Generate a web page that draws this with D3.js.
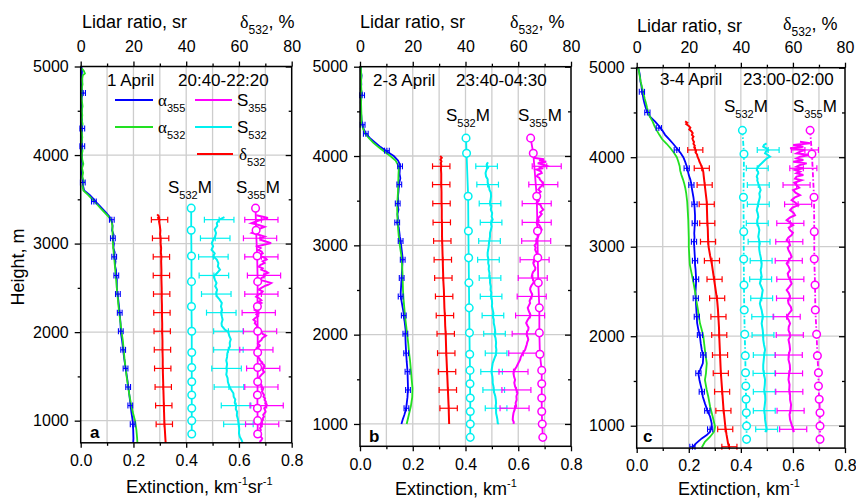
<!DOCTYPE html>
<html><head><meta charset="utf-8">
<script src="https://cdn.jsdelivr.net/npm/d3@7"></script>
<style>body{margin:0;background:#fff}svg{font-family:"Liberation Sans",Arial,sans-serif}</style>
</head><body><svg id="chart" width="856" height="501"></svg>
<script>
// ---------- DATA (height m, value) ----------
const extTicks = [0,0.2,0.4,0.6,0.8];
const extMinor = [0.1,0.3,0.5,0.7];
const lrTicks = [0,20,40,60,80];
const lrMinor = [10,30,50,70];
const hTicks = [1000,2000,3000,4000,5000];
const hMinor = [1500,2500,3500,4500];
const hGrid = [1000,2000,3000,4000];
const extGrid = [0.1,0.2,0.3,0.4,0.5,0.6,0.7];

// Panel a: 1 April 20:40-22:20
const alpha355_a = [[5000,0.003],[4950,0.005],[4900,0.004],[4850,0.006],[4800,0.005],[4750,0.004],[4700,0.009],[4650,0.004],[4600,0.003],[4550,0.005],[4500,0.004],[4450,0.003],[4400,0.005],[4350,0.004],[4300,0.006],[4250,0.004],[4200,0.005],[4150,0.004],[4100,0.006],[4050,0.004],[4000,0.005],[3950,0.004],[3900,0.006],[3850,0.005],[3800,0.004],[3750,0.006],[3700,0.008],[3650,0.009],[3600,0.013],[3550,0.034],[3500,0.05],[3450,0.064],[3400,0.08],[3350,0.096],[3300,0.11],[3250,0.118],[3200,0.121],[3150,0.119],[3100,0.125],[3050,0.122],[3000,0.126],[2950,0.124],[2900,0.129],[2850,0.127],[2800,0.132],[2750,0.13],[2700,0.134],[2650,0.135],[2600,0.137],[2500,0.137],[2400,0.141],[2300,0.145],[2200,0.148],[2100,0.151],[2000,0.152],[1900,0.157],[1800,0.161],[1700,0.165],[1600,0.17],[1500,0.175],[1400,0.18],[1300,0.184],[1200,0.188],[1100,0.192],[1000,0.197],[900,0.199],[800,0.2],[750,0.199]];
const alpha532_a = [[4980,0.004],[4950,0.012],[4920,0.016],[4900,0.008],[4850,0.005],[4800,0.007],[4750,0.004],[4700,0.006],[4650,0.003],[4600,0.005],[4550,0.007],[4500,0.004],[4450,0.006],[4400,0.004],[4350,0.007],[4300,0.005],[4250,0.004],[4200,0.006],[4150,0.004],[4100,0.005],[4050,0.007],[4000,0.004],[3950,0.006],[3900,0.01],[3850,0.005],[3800,0.009],[3750,0.006],[3700,0.012],[3650,0.007],[3600,0.01],[3550,0.028],[3500,0.044],[3450,0.06],[3400,0.075],[3350,0.091],[3300,0.107],[3250,0.117],[3200,0.12],[3100,0.121],[3000,0.122],[2900,0.125],[2800,0.128],[2700,0.131],[2600,0.134],[2500,0.137],[2400,0.14],[2300,0.143],[2200,0.147],[2100,0.151],[2000,0.155],[1900,0.16],[1800,0.163],[1700,0.166],[1600,0.17],[1500,0.174],[1400,0.179],[1300,0.184],[1200,0.19],[1100,0.197],[1000,0.206],[900,0.211],[800,0.214],[750,0.215]];
const delta532_a = [[3330,29.0],[3310,29.6],[3290,29.3],[3270,29.9],[3250,29.7],[3200,30.0],[3150,30.2],[3100,30.1],[3050,30.3],[3000,30.3],[2950,30.5],[2900,30.4],[2850,30.6],[2800,30.5],[2700,30.6],[2600,30.6],[2500,30.7],[2400,30.7],[2300,30.8],[2200,30.8],[2100,30.9],[2000,30.9],[1900,31.0],[1800,31.0],[1700,31.1],[1600,31.1],[1500,31.2],[1400,31.3],[1300,31.4],[1200,31.5],[1100,31.6],[1000,31.7],[900,31.9],[800,32.1],[750,32.2]];
const S532_a = [[3300,54.5],[3270,52.5],[3230,51.6],[3200,51.8],[3160,50.8],[3120,51.3],[3080,51.0],[3040,50.2],[3005,49.7],[2970,50.2],[2930,49.6],[2890,50.8],[2855,50.3],[2820,51.6],[2780,52.2],[2740,52.0],[2705,52.8],[2670,51.8],[2630,50.5],[2590,50.9],[2555,51.5],[2520,51.0],[2480,51.7],[2440,51.4],[2405,51.6],[2370,52.6],[2330,53.5],[2290,53.2],[2250,53.6],[2220,53.3],[2180,53.5],[2140,53.8],[2100,53.4],[2070,53.5],[2030,54.6],[2000,56.0],[1960,56.3],[1920,56.9],[1880,56.5],[1840,56.6],[1800,56.0],[1760,55.6],[1720,55.5],[1680,55.2],[1640,55.5],[1600,55.3],[1560,55.4],[1520,55.2],[1480,55.7],[1440,55.8],[1400,56.2],[1360,56.8],[1310,57.9],[1270,58.0],[1240,58.6],[1200,58.4],[1170,58.9],[1130,58.8],[1100,59.3],[1060,59.2],[1020,59.6],[980,59.8],[940,60.0],[900,60.1],[860,60.0],[820,60.3],[780,61.0],[750,61.4]];
const S355_a = [[3320,66.6],[3300,69.5],[3290,71.0],[3270,68.5],[3250,66.5],[3230,64.7],[3210,67.5],[3190,69.7],[3170,68.0],[3155,67.2],[3135,65.8],[3120,64.9],[3100,67.5],[3080,69.7],[3060,68.0],[3040,68.5],[3020,70.5],[3005,72.2],[2985,69.0],[2970,67.0],[2950,68.2],[2930,67.2],[2910,68.6],[2890,69.0],[2870,67.8],[2855,68.5],[2835,70.0],[2820,70.5],[2800,69.0],[2780,69.7],[2760,68.2],[2740,67.5],[2720,69.0],[2705,68.5],[2685,70.2],[2670,71.0],[2650,69.5],[2630,69.7],[2610,68.5],[2590,68.0],[2570,70.5],[2555,72.2],[2535,71.0],[2520,69.7],[2500,68.5],[2480,67.5],[2460,69.0],[2440,68.5],[2420,67.2],[2400,66.5],[2380,67.8],[2360,68.5],[2345,67.6],[2330,68.5],[2310,67.2],[2290,66.5],[2270,67.0],[2250,66.0],[2235,66.8],[2220,67.5],[2200,66.6],[2180,67.2],[2160,66.2],[2140,65.5],[2120,66.3],[2100,66.0],[2080,66.7],[2060,67.0],[2045,66.5],[2030,67.2],[2010,68.0],[2000,68.5],[1980,69.0],[1960,70.2],[1950,69.7],[1930,68.8],[1910,68.5],[1890,67.6],[1870,67.2],[1850,67.9],[1840,67.8],[1820,67.0],[1800,66.6],[1780,67.2],[1760,67.5],[1740,66.9],[1720,67.2],[1700,67.8],[1680,68.0],[1660,68.8],[1650,68.5],[1630,69.5],[1610,69.7],[1590,69.2],[1570,69.0],[1550,69.6],[1535,69.1],[1515,68.4],[1500,68.0],[1480,67.5],[1460,67.2],[1440,67.8],[1420,68.0],[1400,68.6],[1385,68.5],[1365,69.2],[1345,69.0],[1330,68.7],[1310,69.1],[1290,69.5],[1270,69.3],[1250,69.9],[1235,69.7],[1215,70.2],[1195,70.0],[1180,70.5],[1160,70.3],[1140,69.6],[1120,69.9],[1100,70.1],[1085,69.7],[1065,69.2],[1045,69.5],[1025,69.0],[1010,69.1],[990,68.6],[970,68.8],[950,68.2],[935,68.5],[915,68.0],[895,68.3],[875,67.6],[860,67.8],[840,68.4],[820,68.2],[800,68.8],[780,68.5],[760,67.8]];
const modelH_a = [3400,3150,2860,2570,2290,2010,1770,1600,1440,1290,1140,1000,850];
const S532M_a = [41.9,41.9,42.0,42.0,42.0,42.1,42.1,42.1,42.1,42.1,42.1,42.1,42.1];
const S355M_a = [66.3,66.5,66.9,67.1,67.0,67.1,67.1,67.1,67.1,67.0,67.0,67.1,67.1];
const errH_a = [3270,3060,2850,2640,2430,2220,2010,1800,1590,1380,1170,960];
const alphaErrH_a = [4700,4300,4100,3690,3475,3270,3060,2850,2640,2430,2220,2010,1800,1590,1380,1170,960];

// Panel b: 2-3 April 23:40-04:30
const alpha355_b = [[5000,0.004],[4950,0.003],[4900,0.006],[4850,0.004],[4800,0.005],[4750,0.003],[4700,0.008],[4650,0.004],[4600,0.003],[4550,0.004],[4500,0.003],[4450,0.005],[4400,0.006],[4350,0.01],[4300,0.014],[4250,0.022],[4200,0.038],[4150,0.058],[4100,0.078],[4050,0.102],[4000,0.128],[3950,0.144],[3900,0.152],[3850,0.151],[3800,0.15],[3750,0.153],[3700,0.149],[3650,0.147],[3600,0.146],[3550,0.144],[3500,0.145],[3450,0.143],[3400,0.146],[3350,0.142],[3300,0.144],[3250,0.141],[3200,0.147],[3150,0.149],[3100,0.151],[3050,0.154],[3000,0.156],[2950,0.158],[2900,0.16],[2850,0.162],[2800,0.161],[2750,0.16],[2700,0.159],[2650,0.158],[2600,0.157],[2550,0.156],[2500,0.155],[2450,0.154],[2400,0.156],[2350,0.159],[2300,0.162],[2250,0.165],[2200,0.166],[2150,0.169],[2100,0.171],[2050,0.173],[2000,0.172],[1900,0.173],[1800,0.175],[1700,0.177],[1600,0.18],[1500,0.181],[1400,0.182],[1300,0.18],[1200,0.176],[1150,0.173],[1100,0.168],[1050,0.162],[1000,0.157]];
const alpha532_b = [[5000,0.003],[4900,0.005],[4800,0.004],[4700,0.006],[4600,0.004],[4500,0.005],[4400,0.006],[4350,0.008],[4300,0.012],[4250,0.02],[4200,0.034],[4150,0.05],[4100,0.07],[4050,0.092],[4000,0.115],[3950,0.135],[3900,0.144],[3850,0.147],[3800,0.146],[3700,0.145],[3600,0.144],[3500,0.142],[3400,0.141],[3300,0.142],[3200,0.144],[3100,0.147],[3000,0.151],[2900,0.156],[2800,0.159],[2700,0.161],[2600,0.162],[2500,0.163],[2400,0.165],[2300,0.168],[2200,0.171],[2100,0.175],[2000,0.179],[1900,0.183],[1800,0.186],[1700,0.19],[1600,0.193],[1500,0.196],[1400,0.199],[1300,0.198],[1200,0.193],[1100,0.185],[1050,0.181],[1000,0.177]];
const delta532_b = [[4000,30.4],[3980,31.0],[3960,30.5],[3940,30.9],[3920,30.6],[3900,30.8],[3850,30.7],[3800,30.8],[3700,30.8],[3600,30.9],[3500,30.9],[3400,31.0],[3300,31.0],[3200,31.1],[3100,31.1],[3000,31.2],[2900,31.3],[2800,31.4],[2700,31.5],[2600,31.6],[2500,31.8],[2400,31.9],[2300,32.0],[2200,32.2],[2100,32.3],[2000,32.5],[1800,32.7],[1600,33.0],[1400,33.3],[1200,33.6],[1000,33.8]];
const S532_b = [[3930,48.5],[3900,48.0],[3870,48.6],[3850,48.0],[3810,47.6],[3770,47.8],[3740,48.4],[3700,48.4],[3660,48.9],[3620,49.1],[3590,49.6],[3550,49.7],[3510,49.5],[3470,49.3],[3440,49.8],[3400,49.6],[3360,50.1],[3320,49.9],[3290,50.3],[3250,49.7],[3210,49.9],[3170,49.6],[3140,49.3],[3100,49.3],[3060,49.1],[3030,48.9],[2990,48.8],[2950,48.6],[2920,48.4],[2880,48.4],[2840,48.7],[2800,48.6],[2770,48.9],[2730,48.8],[2690,49.1],[2650,49.0],[2620,49.3],[2580,49.3],[2540,49.6],[2500,49.5],[2470,49.8],[2430,49.7],[2390,50.0],[2350,50.1],[2320,50.0],[2280,50.3],[2240,50.6],[2200,50.4],[2170,50.7],[2130,50.7],[2090,51.0],[2050,51.2],[2020,51.3],[2000,51.0],[1960,51.4],[1910,51.6],[1870,51.5],[1830,51.7],[1790,51.6],[1750,51.2],[1720,50.8],[1680,50.3],[1640,50.1],[1600,49.9],[1570,49.9],[1530,50.2],[1490,50.3],[1460,50.3],[1420,50.6],[1380,50.7],[1350,50.9],[1310,51.3],[1270,51.5],[1230,51.6],[1200,51.4],[1160,51.6],[1120,51.6],[1080,51.9],[1050,52.1],[1010,52.2],[1000,52.6]];
const S355_b = [[3980,65.7],[3965,69.8],[3950,67.9],[3935,70.6],[3920,67.4],[3905,69.4],[3890,70.8],[3875,68.2],[3860,68.9],[3848,67.0],[3830,68.6],[3811,68.9],[3790,67.4],[3773,67.0],[3755,68.0],[3736,68.2],[3710,69.0],[3680,69.5],[3650,68.3],[3624,67.6],[3600,68.5],[3575,67.5],[3549,68.2],[3520,67.4],[3500,67.8],[3474,67.0],[3450,68.5],[3425,68.8],[3399,69.5],[3370,68.3],[3350,68.9],[3325,68.2],[3300,67.4],[3275,67.8],[3250,67.0],[3225,68.0],[3200,68.5],[3175,68.9],[3150,68.0],[3125,67.8],[3100,67.6],[3075,67.2],[3050,66.8],[3026,67.0],[3000,66.2],[2975,66.6],[2951,66.4],[2925,66.8],[2900,67.2],[2877,67.0],[2850,66.2],[2825,65.9],[2802,65.7],[2775,66.0],[2750,66.5],[2727,66.4],[2700,65.6],[2675,65.3],[2652,65.1],[2625,65.5],[2600,65.9],[2578,65.7],[2550,65.0],[2525,64.6],[2503,64.5],[2475,64.9],[2450,65.3],[2428,65.1],[2400,64.6],[2375,64.3],[2354,64.5],[2325,64.0],[2300,63.6],[2279,63.8],[2250,64.2],[2225,64.6],[2204,64.5],[2180,63.9],[2155,63.4],[2130,63.0],[2100,63.5],[2080,63.9],[2055,63.8],[2030,63.3],[2000,63.2],[1970,63.6],[1943,63.8],[1915,63.4],[1887,63.2],[1860,62.9],[1831,62.6],[1800,61.9],[1775,61.4],[1745,60.9],[1719,60.7],[1680,60.0],[1644,59.4],[1610,58.7],[1570,58.2],[1530,58.4],[1495,58.8],[1460,58.5],[1420,58.8],[1385,59.3],[1346,59.7],[1310,59.3],[1271,59.4],[1235,59.0],[1196,59.2],[1160,58.6],[1122,58.2],[1085,58.0],[1047,57.9],[1020,58.3],[1000,58.2]];
const modelH_b = [4200,4030,3550,3160,2860,2580,2300,2020,1780,1600,1450,1290,1140,1000,850];
const S532M_b = [40.2,40.4,41.0,41.1,41.2,41.3,41.4,41.5,41.6,41.7,41.7,41.8,41.8,41.8,41.8];
const S355M_b = [64.7,65.7,67.0,67.3,67.4,67.6,68.0,68.0,68.2,68.9,68.9,68.9,68.9,69.1,69.3];
const errH_b = [3885,3680,3467,3257,3049,2839,2634,2428,2214,2009,1793,1586,1381,1176];
const alphaErrH_b = [4680,4350,4250,4060,3885,3680,3467,3257,3049,2839,2634,2428,2214,2009,1793,1586,1381,1176];

// Panel c: 3-4 April 23:00-02:00
const alpha355_c = [[5000,0.006],[4950,0.01],[4900,0.013],[4850,0.014],[4800,0.018],[4750,0.02],[4700,0.023],[4650,0.026],[4600,0.03],[4550,0.035],[4500,0.041],[4450,0.052],[4400,0.07],[4350,0.085],[4300,0.098],[4250,0.109],[4200,0.125],[4150,0.14],[4100,0.154],[4050,0.168],[4000,0.179],[3950,0.186],[3900,0.192],[3850,0.196],[3800,0.2],[3750,0.206],[3700,0.21],[3650,0.212],[3600,0.215],[3550,0.218],[3500,0.22],[3450,0.222],[3400,0.223],[3350,0.224],[3300,0.224],[3250,0.223],[3200,0.222],[3150,0.221],[3100,0.222],[3050,0.22],[3000,0.221],[2950,0.222],[2900,0.223],[2850,0.224],[2800,0.224],[2750,0.226],[2700,0.227],[2650,0.228],[2600,0.228],[2550,0.227],[2500,0.226],[2450,0.226],[2400,0.227],[2350,0.228],[2300,0.229],[2250,0.23],[2200,0.231],[2150,0.232],[2069,0.237],[1995,0.243],[1920,0.246],[1846,0.25],[1790,0.256],[1697,0.254],[1622,0.243],[1585,0.237],[1511,0.241],[1399,0.25],[1324,0.254],[1250,0.262],[1175,0.271],[1101,0.282],[1026,0.288],[989,0.288],[933,0.282],[896,0.269],[858,0.25],[802,0.228],[757,0.214]];
const alpha532_c = [[5000,0.006],[4950,0.009],[4900,0.012],[4850,0.015],[4800,0.019],[4750,0.023],[4700,0.027],[4650,0.031],[4600,0.036],[4550,0.04],[4500,0.045],[4450,0.051],[4400,0.061],[4350,0.068],[4300,0.077],[4250,0.087],[4200,0.098],[4150,0.115],[4100,0.13],[4050,0.143],[4000,0.154],[3950,0.16],[3900,0.165],[3850,0.167],[3800,0.172],[3750,0.178],[3700,0.183],[3650,0.187],[3600,0.19],[3550,0.192],[3500,0.194],[3400,0.196],[3300,0.198],[3200,0.199],[3100,0.2],[3000,0.2],[2900,0.202],[2800,0.204],[2700,0.211],[2600,0.218],[2500,0.224],[2400,0.229],[2300,0.235],[2200,0.24],[2144,0.243],[2069,0.25],[1995,0.256],[1846,0.262],[1697,0.269],[1585,0.266],[1511,0.262],[1399,0.269],[1324,0.275],[1212,0.282],[1101,0.292],[989,0.301],[933,0.297],[877,0.282],[821,0.262],[757,0.25]];
const delta532_c = [[4400,18.6],[4385,19.4],[4370,19.0],[4350,20.0],[4330,20.6],[4310,20.2],[4290,21.0],[4270,21.5],[4250,21.2],[4230,21.8],[4210,21.4],[4190,21.6],[4170,22.0],[4150,21.8],[4130,22.3],[4110,22.1],[4090,22.5],[4070,22.8],[4050,22.7],[4030,23.2],[4010,23.3],[3990,23.6],[3970,23.9],[3950,24.1],[3920,24.6],[3890,25.0],[3860,25.4],[3830,25.6],[3800,25.7],[3750,25.9],[3700,26.1],[3650,26.3],[3600,26.5],[3550,26.7],[3500,26.9],[3400,27.0],[3300,27.1],[3200,27.3],[3100,27.4],[3000,27.6],[2900,28.2],[2800,28.9],[2700,29.4],[2600,29.9],[2500,30.4],[2400,30.9],[2300,31.2],[2200,31.4],[2100,31.6],[2000,31.7],[1800,32.0],[1600,32.3],[1400,32.8],[1200,33.3],[1000,34.0],[900,34.5],[800,35.1],[750,35.6]];
const S532_c = [[4155,49.9],[4137,48.9],[4118,48.6],[4100,49.8],[4080,50.5],[4062,49.6],[4043,49.3],[4025,50.4],[4006,51.2],[3988,50.0],[3969,49.3],[3950,48.6],[3932,48.0],[3913,47.3],[3894,46.7],[3876,46.3],[3857,46.1],[3838,46.6],[3820,46.7],[3800,46.3],[3783,46.1],[3760,46.4],[3740,46.3],[3706,46.7],[3670,47.2],[3632,47.6],[3595,47.1],[3557,47.3],[3520,47.0],[3483,46.7],[3445,46.4],[3408,46.1],[3370,46.5],[3334,46.7],[3296,46.3],[3259,46.3],[3222,46.8],[3185,47.1],[3148,46.9],[3111,46.7],[3074,47.0],[3036,47.3],[3000,47.0],[2962,47.1],[2925,47.3],[2887,47.6],[2850,47.8],[2813,48.0],[2775,47.9],[2738,47.6],[2700,47.8],[2664,48.0],[2627,47.6],[2589,47.3],[2552,47.9],[2515,48.4],[2478,48.2],[2440,48.0],[2403,47.6],[2366,47.3],[2328,47.6],[2291,48.0],[2254,48.2],[2217,48.4],[2180,48.2],[2142,48.0],[2105,48.2],[2068,48.4],[2030,48.5],[1993,48.6],[1962,48.6],[1905,48.9],[1850,49.3],[1795,49.0],[1738,48.8],[1680,48.6],[1627,48.6],[1570,48.9],[1515,49.3],[1460,49.2],[1403,49.0],[1347,49.3],[1291,49.4],[1235,49.2],[1180,49.0],[1125,49.2],[1068,49.3],[1012,49.6],[956,49.9],[930,49.3]];
const S355_c = [[4173,62.7],[4155,66.6],[4136,60.1],[4118,64.0],[4099,58.9],[4080,64.6],[4062,62.7],[4043,61.4],[4024,66.6],[4006,62.7],[3987,61.4],[3969,64.0],[3950,60.1],[3931,65.3],[3913,62.7],[3894,61.4],[3876,64.0],[3857,60.8],[3838,62.7],[3820,61.4],[3801,64.0],[3783,61.4],[3760,60.8],[3743,63.3],[3715,60.5],[3687,61.4],[3660,62.4],[3632,60.1],[3604,61.0],[3576,62.7],[3548,60.6],[3520,59.5],[3492,61.0],[3464,62.0],[3436,59.8],[3408,58.9],[3380,60.2],[3352,60.8],[3325,58.8],[3297,57.6],[3270,59.0],[3241,60.1],[3213,58.4],[3185,58.9],[3157,60.0],[3129,59.5],[3100,58.2],[3073,57.6],[3045,58.6],[3017,58.9],[2990,58.0],[2962,58.3],[2925,59.0],[2887,59.5],[2850,58.4],[2813,57.6],[2775,58.4],[2738,58.9],[2700,58.0],[2664,58.3],[2627,59.0],[2589,59.5],[2552,58.6],[2515,57.6],[2478,58.5],[2440,58.9],[2403,58.1],[2366,58.3],[2328,59.2],[2291,59.5],[2254,58.5],[2217,57.6],[2180,58.4],[2142,58.9],[2105,58.4],[2068,58.3],[2030,58.8],[1993,58.9],[1962,58.3],[1905,58.7],[1850,58.9],[1795,58.4],[1738,58.3],[1680,58.8],[1627,58.9],[1570,58.5],[1515,58.3],[1460,58.7],[1403,58.6],[1347,58.9],[1291,58.9],[1235,59.3],[1180,59.1],[1125,58.7],[1068,58.9],[1012,59.5],[956,60.1],[930,60.4]];
const modelH_c = [4300,4036,3552,3168,2863,2572,2293,2021,1782,1592,1443,1295,1145,997,848];
const S532M_c = [40.6,41.2,41.0,41.1,41.1,41.2,41.3,41.5,41.7,41.8,41.9,42.0,42.1,42.2,42.2];
const S355M_c = [66.6,67.3,68.1,68.2,68.2,68.5,68.6,69.1,69.4,69.8,69.8,70.1,70.4,70.4,70.4];
const errH_c = [4081,3876,3690,3474,3261,3056,2844,2636,2424,2218,2013,1790,1585,1380,1168,960,765];
const alphaErrH_c = [4730,4500,4325,4081,3876,3690,3474,3261,3056,2844,2636,2424,2218,2013,1790,1585,1380,1168,960,765];

// ---------- DRAW ----------
const COL = {b:'#0000ff', g:'#22e022', r:'#ff0000', c:'#00f0f0', m:'#ff00ff'};
const svg = d3.select('#chart');

function rich(sel, x, y, parts, size, anchor, weight) {
  const t = sel.append('text').attr('x', x).attr('y', y).attr('font-size', size)
    .attr('text-anchor', anchor || 'start').attr('fill', '#000');
  if (weight) t.attr('font-weight', weight);
  let shift = 0;
  parts.forEach(([str, kind]) => {
    let target = 0, fs = size;
    if (kind === 'sub') { target = size * 0.36; fs = Math.round(size * 0.66); }
    if (kind === 'sup') { target = -size * 0.42; fs = Math.round(size * 0.62); }
    const ts = t.append('tspan').attr('dy', (target - shift).toFixed(2)).attr('font-size', fs).text(str);
    if (kind === 'g') ts.attr('font-family', '"Liberation Serif","DejaVu Serif",serif');
    shift = target;
  });
  return t;
}

const panels = [
  {L:80.7, R:291.7, T:66.5, B:442.8, a355:alpha355_a, a532:alpha532_a, d:delta532_a, s532:S532_a, s355:S355_a,
   mH:modelH_a, m532:S532M_a, m355:S355M_a, eH:errH_a, aeH:alphaErrH_a, hw:{a:0.009, d:3.1, c:5.6, m:6.3}, dash:null,
   lidarX:82, lidarY:28, deltaX:240, deltaY:28, date:'1 April', time:'20:40-22:20', dateX:107, timeX:178, dateY:86,
   smX1:168, smX2:236, smY:193, letter:'a', letX:90, letY:438, extTitle:true, titleX:126, titleY:493, leftTitle:true},
  {L:360, R:571, T:66.7, B:446.3, a355:alpha355_b, a532:alpha532_b, d:delta532_b, s532:S532_b, s355:S355_b,
   mH:modelH_b, m532:S532M_b, m355:S355M_b, eH:errH_b, aeH:alphaErrH_b, hw:{a:0.009, d:3.3, c:4.1, m:5.5}, dash:null,
   lidarX:360, lidarY:28, deltaX:510, deltaY:28, date:'2-3 April', time:'23:40-04:30', dateX:373, timeX:456, dateY:86,
   smX1:446, smX2:518, smY:121, letter:'b', letX:369, letY:442, extTitle:false, titleX:395, titleY:495},
  {L:636.7, R:845, T:67.7, B:448.1, a355:alpha355_c, a532:alpha532_c, d:delta532_c, s532:S532_c, s355:S355_c,
   mH:modelH_c, m532:S532M_c, m355:S355M_c, eH:errH_c, aeH:alphaErrH_c, hw:{a:0.01, d:2.9, c:4.2, m:5.2}, dash:'5,2,1.5,2',
   lidarX:637, lidarY:32, deltaX:783, deltaY:30, date:'3-4 April', time:'23:00-02:00', dateX:660, timeX:743, dateY:85,
   smX1:724, smX2:793, smY:112, letter:'c', letX:643, letY:442, extTitle:false, titleX:678, titleY:495}
];

function drawPanel(p) {
  const x = d3.scaleLinear().domain([0, 0.8]).range([p.L, p.R]);
  const xs = d3.scaleLinear().domain([0, 80]).range([p.L, p.R]);
  const y = d3.scaleLinear().domain([750, 5000]).range([p.B, p.T]);
  const g = svg.append('g');

  // grid
  g.append('g').selectAll('line').data(extGrid).join('line')
    .attr('x1', d => x(d)).attr('x2', d => x(d)).attr('y1', p.T).attr('y2', p.B)
    .attr('stroke', '#cdcdcd').attr('stroke-width', 1.3);
  g.append('g').selectAll('line').data(hGrid).join('line')
    .attr('x1', p.L).attr('x2', p.R).attr('y1', d => y(d)).attr('y2', d => y(d))
    .attr('stroke', '#cdcdcd').attr('stroke-width', 1.3);

  const lineE = d3.line().x(d => x(d[1])).y(d => y(d[0]));
  const lineS = d3.line().x(d => xs(d[1])).y(d => y(d[0]));

  function errBars(series, heights, half, scale, color, width) {
    const lo = d3.min(series, d => d[0]), hi = d3.max(series, d => d[0]);
    const pts = heights.filter(h => h >= lo - 5 && h <= hi + 5)
      .map(h => [h, d3.least(series, s => Math.abs(s[0] - h))[1]]);
    const eg = g.append('g').attr('stroke', color).attr('stroke-width', width || 1.2).attr('fill', 'none');
    const capH = 3;
    pts.forEach(([h, v]) => {
      const yy = y(h), x1 = scale(v - half), x2 = scale(v + half);
      eg.append('line').attr('x1', x1).attr('x2', x2).attr('y1', yy).attr('y2', yy);
      eg.append('line').attr('x1', x1).attr('x2', x1).attr('y1', yy - capH).attr('y2', yy + capH);
      eg.append('line').attr('x1', x2).attr('x2', x2).attr('y1', yy - capH).attr('y2', yy + capH);
      eg.append('line').attr('x1', scale(v)).attr('x2', scale(v)).attr('y1', yy - capH).attr('y2', yy + capH);
    });
  }

  // extinction profiles
  g.append('path').datum(p.a355).attr('d', lineE).attr('fill', 'none').attr('stroke', COL.b).attr('stroke-width', 1.8);
  g.append('path').datum(p.a532).attr('d', lineE).attr('fill', 'none').attr('stroke', COL.g).attr('stroke-width', 1.8);
  errBars(p.a355, p.aeH, p.hw.a, x, COL.b, 1.1);

  // depolarization
  g.append('path').datum(p.d).attr('d', lineS).attr('fill', 'none').attr('stroke', COL.r).attr('stroke-width', 2);
  errBars(p.d, p.eH, p.hw.d, xs, COL.r, 1.2);

  // model S532
  const m532 = p.mH.map((h, i) => [h, p.m532[i]]);
  const m355 = p.mH.map((h, i) => [h, p.m355[i]]);
  const ml1 = g.append('path').datum(m532).attr('d', lineS).attr('fill', 'none').attr('stroke', COL.c).attr('stroke-width', 1.8);
  if (p.dash) ml1.attr('stroke-dasharray', p.dash);

  // measured S532
  g.append('path').datum(p.s532).attr('d', lineS).attr('fill', 'none').attr('stroke', COL.c).attr('stroke-width', 2);
  errBars(p.s532, p.eH, p.hw.c, xs, COL.c, 1.2);

  // measured S355
  g.append('path').datum(p.s355).attr('d', lineS).attr('fill', 'none').attr('stroke', COL.m).attr('stroke-width', 2);
  errBars(p.s355, p.eH, p.hw.m, xs, COL.m, 1.2);

  // model S355
  const ml2 = g.append('path').datum(m355).attr('d', lineS).attr('fill', 'none').attr('stroke', COL.m).attr('stroke-width', 1.8);
  if (p.dash) ml2.attr('stroke-dasharray', p.dash);

  g.append('g').selectAll('circle').data(m532).join('circle')
    .attr('cx', d => xs(d[1])).attr('cy', d => y(d[0])).attr('r', 3.8)
    .attr('fill', '#fff').attr('stroke', COL.c).attr('stroke-width', 1.5);
  g.append('g').selectAll('circle').data(m355).join('circle')
    .attr('cx', d => xs(d[1])).attr('cy', d => y(d[0])).attr('r', 3.8)
    .attr('fill', '#fff').attr('stroke', COL.m).attr('stroke-width', 1.5);

  // frame
  g.append('rect').attr('x', p.L).attr('y', p.T).attr('width', p.R - p.L).attr('height', p.B - p.T)
    .attr('fill', 'none').attr('stroke', '#000').attr('stroke-width', 1.5);

  function styleAxis(ax) {
    ax.select('.domain').remove();
    ax.selectAll('line').attr('stroke', '#000').attr('stroke-width', 1.3);
    ax.selectAll('text').attr('font-size', 16).attr('fill', '#000').attr('font-family', '"Liberation Sans",Arial,sans-serif');
  }
  // left
  styleAxis(g.append('g').attr('transform', `translate(${p.L},0)`)
    .call(d3.axisLeft(y).tickValues(hTicks).tickSize(6).tickPadding(6).tickFormat(d3.format('d'))));
  styleAxis(g.append('g').attr('transform', `translate(${p.L},0)`)
    .call(d3.axisLeft(y).tickValues(hMinor).tickSize(3).tickFormat('')));
  // right (inward)
  styleAxis(g.append('g').attr('transform', `translate(${p.R},0)`)
    .call(d3.axisLeft(y).tickValues(hTicks).tickSize(6).tickFormat('')));
  styleAxis(g.append('g').attr('transform', `translate(${p.R},0)`)
    .call(d3.axisLeft(y).tickValues(hMinor).tickSize(3).tickFormat('')));
  // bottom
  styleAxis(g.append('g').attr('transform', `translate(0,${p.B})`)
    .call(d3.axisBottom(x).tickValues(extTicks).tickSize(5).tickPadding(7).tickFormat(d3.format('.1f'))));
  styleAxis(g.append('g').attr('transform', `translate(0,${p.B})`)
    .call(d3.axisBottom(x).tickValues(extMinor).tickSize(3).tickFormat('')));
  // top
  styleAxis(g.append('g').attr('transform', `translate(0,${p.T})`)
    .call(d3.axisTop(xs).tickValues(lrTicks).tickSize(5).tickPadding(10).tickFormat(d3.format('d'))));
  styleAxis(g.append('g').attr('transform', `translate(0,${p.T})`)
    .call(d3.axisTop(xs).tickValues(lrMinor).tickSize(3).tickFormat('')));

  // titles
  rich(g, p.lidarX, p.lidarY, [['Lidar ratio, sr']], 18);
  rich(g, p.deltaX, p.deltaY, [['δ', 'g'], ['532', 'sub'], [', %']], 18);
  if (p.extTitle) rich(g, p.titleX, p.titleY, [['Extinction, km'], ['-1', 'sup'], ['sr'], ['-1', 'sup']], 18);
  else rich(g, p.titleX, p.titleY, [['Extinction, km'], ['-1', 'sup']], 18);

  g.append('text').attr('x', p.dateX).attr('y', p.dateY).attr('font-size', 17).text(p.date);
  g.append('text').attr('x', p.timeX).attr('y', p.dateY).attr('font-size', 17).text(p.time);

  rich(g, p.smX1, p.smY, [['S'], ['532', 'sub'], ['M']], 17);
  rich(g, p.smX2, p.smY, [['S'], ['355', 'sub'], ['M']], 17);

  g.append('text').attr('x', p.letX).attr('y', p.letY).attr('font-size', 17).attr('font-weight', 'bold').text(p.letter);

  if (p.leftTitle) {
    g.append('text').attr('transform', 'translate(24,267) rotate(-90)').attr('text-anchor', 'middle')
      .attr('font-size', 18).text('Height, m');
  }
}
panels.forEach(drawPanel);

// legend (panel a)
const legend = [
  {x1:115, x2:153, y:100, col:COL.b, tx:158, parts:[['α','g'],['355','sub']]},
  {x1:195, x2:232, y:100, col:COL.m, tx:237, parts:[['S'],['355','sub']]},
  {x1:115, x2:153, y:127, col:COL.g, tx:158, parts:[['α','g'],['532','sub']]},
  {x1:195, x2:232, y:127, col:COL.c, tx:237, parts:[['S'],['532','sub']]},
  {x1:197, x2:233, y:154, col:COL.r, tx:239, parts:[['δ','g'],['532','sub']]}
];
const lg = svg.append('g');
legend.forEach(l => {
  lg.append('line').attr('x1', l.x1).attr('x2', l.x2).attr('y1', l.y).attr('y2', l.y)
    .attr('stroke', l.col).attr('stroke-width', 2);
  rich(lg, l.tx, l.y + 6, l.parts, 17);
});
</script></body></html>
